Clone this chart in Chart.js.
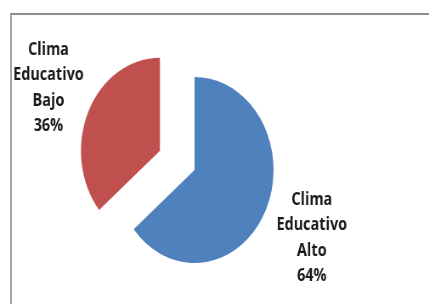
<!DOCTYPE html>
<html>
<head>
<meta charset="utf-8">
<script src="https://cdn.jsdelivr.net/npm/chart.js@4/dist/chart.umd.min.js"></script>
<style>
  html, body { margin: 0; padding: 0; background: #fff; }
  #wrap { position: relative; width: 429px; height: 304px; overflow: hidden; background: #fff; }
  #frame { position: absolute; left: 10px; top: 13px; width: 460px; height: 340px;
           border-left: 2px solid #a6a6a6; border-top: 2px solid #8c8c8c; box-sizing: border-box; }
  #c { position: absolute; left: 0; top: 0; }
</style>
</head>
<body>
<div id="wrap">
  <div id="frame"></div>
  <canvas id="c" width="505" height="304" style="width:429px;height:304px;"></canvas>
</div>
<script>
// Data
const categories = ["Clima Educativo Alto", "Clima Educativo Bajo"];
const values = [64, 36];
const colors = ["#4F81BD", "#C0504D"];
const explode = [0, 45];
const labelDist = [1.64, 1.56];
const labelNudgeY = [3, -1];

const pieLabels = {
  id: 'pieLabels',
  beforeDatasetDraw(chart, args) {
    const ctx = chart.ctx;
    args.meta.data.forEach((arc, i) => {
      const mid = (arc.startAngle + arc.endAngle) / 2;
      const d = explode[i] || 0;
      ctx.save();
      ctx.translate(Math.cos(mid) * d, Math.sin(mid) * d);
      arc.draw(ctx);
      ctx.restore();
    });
    return false;
  },
  afterDatasetsDraw(chart) {
    const ctx = chart.ctx;
    const meta = chart.getDatasetMeta(0);
    const total = values.reduce((a, b) => a + b, 0);
    meta.data.forEach((arc, i) => {
      const mid = (arc.startAngle + arc.endAngle) / 2;
      const dist = (explode[i] || 0) + arc.outerRadius * labelDist[i];
      const x = arc.x + Math.cos(mid) * dist;
      const y = arc.y + Math.sin(mid) * dist + labelNudgeY[i];
      const lines = categories[i].split(' ');
      lines.push(Math.round(values[i] / total * 100) + '%');
      const lh = 25.5;
      ctx.save();
      ctx.font = 'bold 17px "Open Sans"';
      ctx.fillStyle = '#1a1a1a';
      ctx.textAlign = 'center';
      ctx.textBaseline = 'middle';
      lines.forEach((t, k) => {
        ctx.fillText(t, x, y + (k - (lines.length - 1) / 2) * lh);
      });
      ctx.restore();
    });
  }
};

new Chart(document.getElementById('c'), {
  type: 'pie',
  data: {
    labels: categories,
    datasets: [{
      data: values,
      backgroundColor: colors,
      borderWidth: 0
    }]
  },
  options: {
    responsive: false,
    devicePixelRatio: 1,
    animation: false,
    layout: { padding: { left: 136, right: 183, top: 77, bottom: 41 } },
    plugins: {
      legend: { display: false },
      tooltip: { enabled: false }
    }
  },
  plugins: [pieLabels]
});
</script>
</body>
</html>
